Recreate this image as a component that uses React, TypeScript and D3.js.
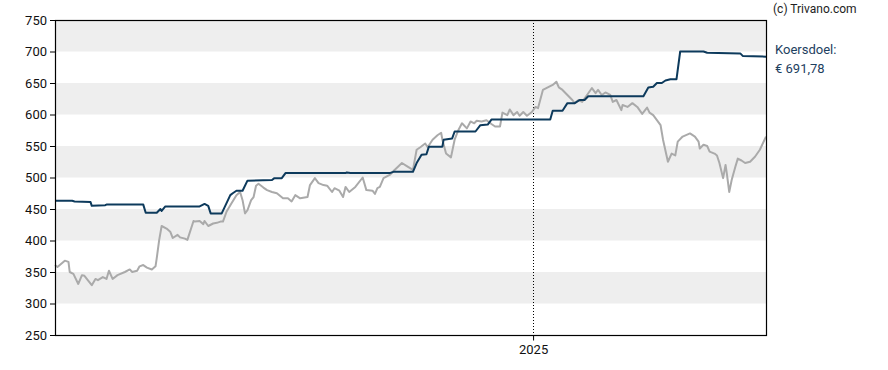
import { useRef, useEffect } from "react";
import * as d3 from "d3";

// days since 8 Dec 2023
const startDate = new Date(2023, 11, 8);
const endDate = new Date(2025, 6, 10);

const priceDays = [
  0, 2, 8, 11, 12, 15, 19, 22, 24, 30, 33, 35, 39, 42, 44, 47, 51, 57, 61, 63,
  67, 69, 72, 75, 79, 82, 83, 85, 87, 91, 94, 96, 100, 102, 106, 108, 113, 114,
  118, 121, 122, 125, 129, 132, 135, 137, 140, 144, 148, 151, 153, 155, 157,
  160, 162, 164, 166, 170, 173, 177, 181, 186, 190, 193, 196, 200, 206, 208,
  212, 215, 219, 222, 226, 228, 232, 235, 237, 240, 245, 251, 254, 259, 261,
  263, 265, 268, 273, 277, 283, 287, 292, 295, 298, 302, 304, 308, 312, 315,
  316, 319, 323, 326, 329, 332, 336, 339, 342, 344, 348, 352, 356, 359, 363,
  365, 369, 371, 374, 377, 379, 382, 385, 389, 392, 394, 398, 402, 406, 409,
  411, 414, 418, 422, 424, 427, 430, 434, 438, 441, 443, 446, 449, 453, 455,
  458, 462, 463, 467, 471, 475, 479, 483, 485, 488, 491, 494, 496, 500, 503,
  506, 508, 512, 518, 522, 525, 526, 529, 532, 534, 538, 540, 542, 545, 547,
  548, 550, 552, 555, 557, 560, 563, 567, 571, 575, 580,
];
const priceValues = [
  361, 358, 368, 366, 350, 347, 331, 345, 344, 329, 339, 337, 342, 339, 352,
  339, 345, 350, 354, 350, 352, 359, 361, 357, 354, 359, 372, 401, 423, 419,
  414, 404, 409, 405, 403, 401, 431, 430, 431, 426, 431, 423, 427, 428, 430,
  430, 446, 459, 472, 477, 464, 443, 448, 464, 469, 487, 490, 484, 480, 477,
  475, 467, 467, 462, 472, 467, 469, 488, 499, 491, 488, 487, 477, 483, 479,
  469, 485, 477, 485, 500, 480, 479, 474, 483, 485, 499, 504, 512, 523, 518,
  512, 544, 548, 554, 548, 560, 567, 571, 560, 538, 532, 560, 575, 586, 578,
  589, 586, 590, 589, 591, 585, 581, 581, 603, 599, 608, 599, 604, 598, 604,
  598, 604, 612, 610, 639, 643, 647, 652, 643, 639, 631, 623, 618, 623, 620,
  631, 642, 634, 639, 631, 635, 631, 620, 623, 607, 615, 612, 618, 612, 601,
  611, 603, 599, 591, 583, 560, 525, 538, 535, 557, 565, 570, 565, 557, 546,
  552, 550, 541, 538, 535, 523, 499, 520, 507, 477, 496, 517, 530, 527, 523,
  525, 533, 544, 565,
];

const targetDays = [
  0, 14, 16, 29, 30, 41, 42, 72, 74, 83, 86, 87, 90, 118, 122, 125, 127, 136,
  143, 145, 148, 153, 157, 177, 179, 185, 188, 237, 238, 241, 273, 276, 292,
  295, 299, 303, 305, 316, 317, 324, 326, 343, 347, 353, 356, 404, 406, 414,
  418, 424, 428, 432, 435, 480, 484, 488, 491, 495, 498, 502, 507, 510, 529,
  532, 559, 561, 580,
];
const targetValues = [
  463, 463, 462, 461, 455, 456, 457, 457, 444, 444, 450, 447, 454, 454, 458,
  455, 443, 443, 472, 475, 479, 479, 495, 496, 499, 499, 507, 507, 508, 507,
  507, 509, 509, 523, 536, 537, 549, 549, 560, 562, 573, 573, 583, 584, 592,
  592, 606, 606, 618, 618, 623, 623, 629, 629, 643, 644, 650, 650, 654, 656,
  656, 700, 700, 698, 697, 693, 691.78,
];

const yTicks = [250, 300, 350, 400, 450, 500, 550, 600, 650, 700, 750];
const bands = [300, 400, 500, 600, 700];
const yearMarks = [new Date(2025, 0, 1)];

const W = 888;
const H = 370;
const m = { top: 20, right: 122, bottom: 35, left: 55 };
const font = "Roboto, 'Liberation Sans', sans-serif";

export default function App() {
  const axisRef = useRef<SVGGElement>(null);
  const xAxisRef = useRef<SVGGElement>(null);

  const x = d3
    .scaleTime()
    .domain([startDate, endDate])
    .range([m.left, W - m.right]);
  const y = d3
    .scaleLinear()
    .domain([250, 750])
    .range([H - m.bottom, m.top]);

  const toDate = (d: number) => d3.timeDay.offset(startDate, d);

  const line = d3
    .line<[number, number]>()
    .x((d) => x(toDate(d[0])))
    .y((d) => y(d[1]));

  const price = priceDays.map((d, i) => [d, priceValues[i]] as [number, number]);
  const target = targetDays.map((d, i) => [d, targetValues[i]] as [number, number]);

  useEffect(() => {
    if (axisRef.current) {
      const g = d3.select(axisRef.current);
      g.selectAll("*").remove();
      g.call(
        d3.axisLeft(y).tickValues(yTicks).tickSize(5).tickPadding(3).tickFormat(d3.format("d"))
      );
      g.select(".domain").remove();
      g.selectAll("line").attr("stroke", "#000");
      g.selectAll("text")
        .attr("font-family", font)
        .attr("font-size", 13)
        .attr("fill", "#111");
    }
    if (xAxisRef.current) {
      const g = d3.select(xAxisRef.current);
      g.selectAll("*").remove();
      g.call(
        d3
          .axisBottom(x)
          .tickValues(yearMarks)
          .tickSize(5)
          .tickPadding(4)
          .tickFormat((d) => d3.timeFormat("%Y")(d as Date))
      );
      g.select(".domain").remove();
      g.selectAll("line").attr("stroke", "#000");
      g.selectAll("text")
        .attr("font-family", font)
        .attr("font-size", 13)
        .attr("fill", "#111");
    }
  }, []);

  const x0 = m.left;
  const x1 = W - m.right;
  const y0 = m.top;
  const y1 = H - m.bottom;

  return (
    <svg
      width={W}
      height={H}
      style={{ position: "absolute", left: 0, top: 0, background: "#fff" }}
    >
      {bands.map((b) => (
        <rect
          key={b}
          x={x0}
          y={y(b + 50)}
          width={x1 - x0}
          height={y(b) - y(b + 50)}
          fill="#eeeeee"
        />
      ))}
      {yearMarks.map((d) => (
        <line
          key={+d}
          x1={Math.round(x(d)) + 0.5}
          x2={Math.round(x(d)) + 0.5}
          y1={y0}
          y2={y1}
          stroke="#000"
          strokeDasharray="1,2"
        />
      ))}
      <path d={line(price) ?? ""} fill="none" stroke="#aaaaaa" strokeWidth={2} strokeLinejoin="round" />
      <path d={line(target) ?? ""} fill="none" stroke="#0d3a5c" strokeWidth={2} strokeLinejoin="round" />
      <rect
        x={x0 + 0.5}
        y={y0 + 0.5}
        width={x1 - x0}
        height={y1 - y0}
        fill="none"
        stroke="#000"
        strokeWidth={1.2}
      />
      <g ref={axisRef} transform={`translate(${x0},0)`} />
      <g ref={xAxisRef} transform={`translate(0,${y1 + 0.5})`} />
      <text x={773} y={13} fontFamily={font} fontSize={12} fill="#222">
        (c) Trivano.com
      </text>
      <text x={775} y={54} fontFamily={font} fontSize={13} fill="#1d4060">
        Koersdoel:
      </text>
      <text x={775} y={73} fontFamily={font} fontSize={13} fill="#1d4060">
        € 691,78
      </text>
    </svg>
  );
}
